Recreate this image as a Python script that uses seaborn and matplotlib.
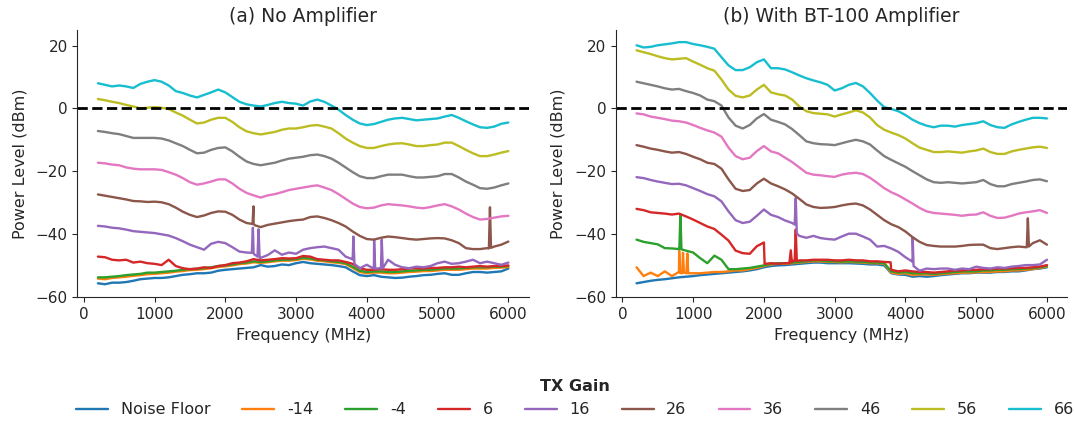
"""
Received power vs frequency for each TX gain, with and without the BT-100 amplifier.
"""
import numpy as np
import pandas as pd

import matplotlib
matplotlib.use('Agg')
import matplotlib.pyplot as plt
import seaborn as sns

sns.set_style('ticks')
plt.rcParams['font.family'] = ['DejaVu Sans']

# ── Data (dBm, sampled every 100 MHz from 200 to 6000 MHz) ───────────────────
FREQ_MHZ = list(range(200, 6001, 100))
GAINS = ['Noise Floor', '-14', '-4', '6', '16', '26', '36', '46', '56', '66']

# (a) No amplifier
a_noise = [-55.7, -56.0, -55.5, -55.5, -55.3, -54.9, -54.4, -54.2, -54.0, -54.0,
           -53.8, -53.4, -53.0, -52.8, -52.5, -52.5, -52.3, -51.7, -51.4, -51.2,
           -51.0, -50.8, -50.6, -49.9, -50.4, -50.2, -49.7, -49.9, -49.3, -48.9,
           -49.3, -49.5, -49.7, -49.9, -50.2, -50.6, -51.9, -53.1, -53.4, -53.1,
           -53.6, -53.8, -54.0, -53.9, -53.6, -53.4, -53.1, -53.0, -52.7, -52.5,
           -53.0, -53.0, -52.5, -52.1, -52.1, -52.3, -52.1, -51.9, -51.0]
a_m14 = [-54.2, -54.4, -54.0, -53.8, -53.6, -53.3, -53.1, -52.8, -52.7, -52.5,
         -52.3, -52.0, -51.8, -51.5, -51.4, -51.2, -50.9, -50.5, -50.3, -50.0,
         -49.6, -49.4, -49.0, -49.2, -49.0, -48.7, -48.5, -48.5, -48.3, -47.9,
         -48.1, -48.5, -48.7, -49.0, -49.2, -49.6, -50.8, -52.1, -52.5, -52.3,
         -52.3, -52.5, -52.5, -52.3, -52.1, -52.0, -51.8, -51.8, -51.6, -51.4,
         -51.4, -51.4, -51.2, -51.0, -51.0, -51.0, -50.8, -50.7, -50.5]
a_m4 = [-53.8, -53.8, -53.6, -53.4, -53.1, -52.9, -52.7, -52.3, -52.3, -52.1,
        -51.9, -51.7, -51.4, -51.2, -51.1, -50.9, -50.6, -50.2, -50.0, -49.7,
        -49.3, -49.1, -48.7, -48.9, -48.7, -48.4, -48.2, -48.2, -48.0, -47.6,
        -47.8, -48.2, -48.4, -48.7, -48.9, -49.3, -50.4, -51.7, -52.1, -51.9,
        -51.9, -52.1, -52.1, -51.9, -51.7, -51.6, -51.4, -51.4, -51.2, -51.0,
        -51.0, -51.0, -50.8, -50.6, -50.6, -50.6, -50.4, -50.4, -50.2]
a_6 = [-47.2, -47.4, -48.2, -48.4, -48.2, -49.1, -48.8, -49.3, -49.5, -49.9,
       -48.2, -50.2, -50.9, -51.2, -51.0, -50.6, -50.8, -50.2, -49.9, -49.3,
       -49.1, -48.7, -48.0, -48.4, -48.2, -48.0, -47.7, -47.8, -47.7, -47.0,
       -47.2, -48.0, -48.2, -48.4, -48.4, -48.9, -49.5, -50.9, -51.4, -51.4,
       -51.2, -51.4, -51.4, -51.2, -51.0, -50.9, -51.0, -50.8, -50.8, -50.6,
       -50.6, -50.4, -50.6, -50.4, -50.2, -50.4, -50.2, -50.2, -50.0]
a_16 = [-37.4, -37.6, -38.0, -38.2, -38.6, -39.1, -39.3, -39.5, -39.7, -40.1,
        -40.5, -41.3, -42.3, -43.4, -44.2, -45.0, -43.1, -42.5, -42.9, -44.2,
        -45.6, -45.9, -46.1, -47.6, -46.7, -45.2, -46.6, -45.9, -46.3, -45.0,
        -44.5, -44.2, -44.0, -44.5, -45.0, -47.2, -48.2, -50.9, -49.8, -50.9,
        -50.9, -48.2, -49.8, -50.6, -50.9, -50.4, -50.6, -50.2, -49.3, -48.8,
        -49.5, -49.3, -48.8, -48.2, -49.3, -48.8, -49.3, -49.8, -49.1]
a_26 = [-27.4, -27.8, -28.2, -28.6, -29.0, -29.5, -29.6, -29.8, -29.7, -29.9,
        -30.5, -31.6, -32.9, -33.9, -34.6, -34.1, -33.3, -32.8, -32.9, -33.9,
        -35.4, -36.5, -36.7, -37.8, -37.1, -36.7, -36.3, -35.9, -35.6, -35.4,
        -34.6, -34.4, -34.9, -35.6, -36.5, -37.6, -39.2, -40.6, -41.6, -41.8,
        -41.2, -40.8, -41.0, -41.3, -41.6, -41.8, -41.6, -41.4, -41.3, -41.4,
        -42.0, -42.9, -44.5, -44.8, -44.8, -44.5, -44.0, -43.4, -42.4]
a_36 = [-17.3, -17.5, -17.9, -18.1, -18.8, -19.2, -19.4, -19.4, -19.4, -19.6,
        -20.3, -21.1, -22.2, -23.5, -24.3, -23.9, -23.3, -22.6, -22.6, -23.9,
        -25.6, -26.9, -27.7, -28.4, -27.7, -27.3, -26.7, -26.0, -25.6, -25.2,
        -24.8, -24.5, -25.2, -26.0, -27.3, -28.8, -30.3, -31.4, -31.8, -31.6,
        -30.9, -30.5, -30.7, -30.9, -31.2, -31.6, -31.8, -31.4, -30.9, -30.5,
        -31.2, -32.2, -33.5, -34.6, -35.4, -35.2, -34.8, -34.4, -34.2]
a_46 = [-7.2, -7.5, -7.9, -8.2, -8.8, -9.4, -9.4, -9.4, -9.4, -9.6,
        -10.2, -11.1, -12.0, -13.2, -14.3, -14.1, -13.2, -12.6, -12.4, -13.7,
        -15.4, -16.9, -17.7, -18.1, -17.7, -17.3, -16.6, -16.0, -15.7, -15.4,
        -14.9, -14.7, -15.2, -16.0, -17.3, -18.8, -20.3, -21.6, -22.2, -22.2,
        -21.6, -21.1, -21.1, -21.1, -21.6, -22.0, -22.0, -21.8, -21.6, -20.9,
        -20.9, -22.0, -23.3, -24.3, -25.4, -25.6, -25.2, -24.5, -23.9]
a_56 = [3.0, 2.6, 2.1, 1.7, 1.1, 0.6, 0.0, 0.2, 0.4, 0.2,
        -0.2, -1.3, -2.3, -3.6, -4.8, -4.5, -3.6, -3.0, -3.0, -4.3,
        -6.0, -7.3, -7.9, -8.3, -7.9, -7.5, -6.8, -6.4, -6.4, -6.0,
        -5.5, -5.3, -5.8, -6.4, -7.9, -9.6, -10.9, -12.0, -12.6, -12.6,
        -12.0, -11.5, -11.2, -11.1, -11.5, -12.0, -12.0, -11.7, -11.5, -10.9,
        -10.9, -12.0, -13.2, -14.3, -15.2, -15.2, -14.7, -14.1, -13.6]
a_66 = [8.0, 7.5, 7.0, 7.3, 7.0, 6.5, 7.8, 8.5, 9.0, 8.5,
        7.3, 5.5, 4.9, 4.1, 3.5, 4.3, 5.1, 6.0, 5.1, 3.6,
        2.1, 1.3, 0.9, 0.6, 1.1, 1.7, 2.1, 1.7, 1.5, 0.9,
        2.2, 2.8, 2.1, 0.9, -0.4, -2.1, -3.6, -4.8, -5.3, -5.0,
        -4.3, -3.6, -3.2, -3.0, -3.4, -3.8, -3.6, -3.4, -3.2, -2.6,
        -2.1, -3.0, -4.1, -5.1, -6.0, -6.2, -5.8, -4.9, -4.5]

# (b) With BT-100 amplifier
b_noise = [-55.7, -55.3, -54.9, -54.6, -54.4, -54.1, -53.8, -53.6, -53.4, -53.1,
           -52.9, -52.7, -52.5, -52.3, -52.1, -51.9, -51.6, -51.2, -50.6, -50.2,
           -50.0, -49.9, -49.7, -49.5, -49.3, -49.1, -49.1, -49.3, -49.3, -49.3,
           -49.3, -49.4, -49.5, -49.7, -49.7, -50.0, -52.5, -52.9, -53.0, -53.6,
           -53.4, -53.6, -53.4, -53.1, -52.9, -52.7, -52.5, -52.5, -52.3, -52.3,
           -52.3, -52.1, -52.1, -51.9, -51.9, -51.6, -51.2, -51.0, -50.6]
b_m14 = [-50.6, -53.4, -52.3, -53.4, -51.9, -53.4, -51.9, -52.5, -52.5, -52.5,
         -52.3, -52.1, -52.1, -51.9, -51.6, -51.6, -51.2, -50.8, -50.2, -49.7,
         -49.5, -49.5, -49.3, -49.1, -48.9, -48.7, -48.7, -48.9, -48.9, -49.0,
         -48.9, -49.0, -49.1, -49.3, -49.3, -49.5, -52.3, -52.7, -52.5, -53.1,
         -52.9, -52.9, -53.0, -52.8, -52.6, -52.5, -52.3, -52.3, -52.2, -52.1,
         -52.1, -51.9, -51.9, -51.6, -51.6, -51.4, -51.2, -50.8, -50.4]
b_m4 = [-41.8, -42.5, -42.9, -43.3, -44.5, -44.6, -44.8, -45.3, -45.9, -47.7,
        -49.3, -46.9, -48.2, -51.2, -51.2, -51.0, -50.8, -50.4, -50.0, -49.5,
        -49.3, -49.3, -49.1, -48.9, -48.7, -48.4, -48.4, -48.7, -48.7, -48.8,
        -48.7, -48.8, -48.9, -49.1, -49.1, -49.3, -51.9, -52.3, -52.1, -52.5,
        -52.5, -52.5, -52.7, -52.5, -52.3, -52.1, -51.9, -51.9, -51.9, -51.6,
        -51.6, -51.4, -51.4, -51.2, -51.2, -51.0, -50.9, -50.6, -50.2]
b_6 = [-32.0, -32.4, -33.1, -33.3, -33.5, -33.8, -33.5, -34.4, -35.4, -36.5,
       -37.6, -38.4, -40.2, -42.1, -45.3, -46.1, -46.3, -43.9, -42.7, -49.3,
       -49.5, -49.3, -48.5, -48.4, -48.4, -48.2, -48.2, -48.2, -48.4, -48.4,
       -48.2, -48.4, -48.4, -48.7, -48.7, -48.9, -51.4, -51.9, -51.6, -51.9,
       -52.1, -52.1, -52.3, -52.1, -51.9, -51.6, -51.6, -51.4, -51.4, -51.2,
       -51.2, -51.0, -51.0, -50.9, -50.8, -50.8, -50.6, -50.4, -49.9]
b_16 = [-21.9, -22.2, -22.8, -23.3, -23.7, -24.1, -24.0, -24.5, -25.4, -26.3,
        -27.3, -28.0, -29.6, -32.8, -35.6, -36.5, -36.1, -34.2, -32.2, -33.9,
        -34.6, -35.7, -36.5, -40.6, -41.2, -40.6, -41.3, -41.6, -41.8, -40.8,
        -39.9, -39.9, -40.8, -41.8, -44.0, -43.8, -44.6, -45.7, -47.4, -48.9,
        -51.7, -51.0, -51.2, -51.0, -51.0, -51.4, -51.0, -51.2, -50.4, -50.8,
        -51.0, -50.6, -50.8, -50.4, -50.2, -49.9, -49.9, -49.7, -48.2]
b_26 = [-11.7, -12.2, -12.8, -13.2, -13.7, -14.1, -13.9, -14.5, -15.4, -16.2,
        -17.3, -17.7, -19.2, -22.6, -25.6, -26.3, -26.0, -23.9, -22.4, -23.9,
        -24.8, -25.8, -27.1, -28.8, -30.6, -31.4, -31.7, -31.6, -31.4, -30.9,
        -30.5, -30.3, -30.9, -32.2, -33.9, -35.6, -36.9, -37.8, -39.2, -41.0,
        -42.5, -43.5, -43.8, -44.0, -44.0, -44.0, -43.8, -43.5, -43.4, -43.4,
        -44.5, -44.8, -44.5, -44.2, -44.0, -44.2, -42.9, -42.0, -43.4]
b_36 = [-1.6, -1.9, -2.6, -3.0, -3.4, -3.9, -4.1, -4.5, -5.3, -6.2,
        -7.0, -7.7, -9.0, -12.5, -15.2, -16.2, -15.7, -13.6, -12.0, -13.7,
        -14.3, -15.7, -17.1, -18.8, -20.5, -21.1, -21.3, -21.6, -21.8, -21.1,
        -20.7, -20.5, -20.9, -22.1, -23.7, -25.4, -26.7, -27.7, -29.0, -30.3,
        -31.7, -32.8, -33.3, -33.5, -33.7, -33.9, -34.2, -33.9, -33.8, -33.1,
        -34.2, -34.9, -34.8, -34.2, -33.5, -33.1, -32.8, -32.4, -33.3]
b_46 = [8.5, 8.0, 7.5, 7.0, 6.4, 6.0, 6.2, 5.5, 4.9, 4.1,
        2.8, 2.3, 0.9, -2.9, -5.5, -6.4, -5.3, -3.2, -1.8, -3.6,
        -4.3, -5.1, -6.6, -8.5, -10.5, -11.1, -11.4, -11.5, -11.7, -11.1,
        -10.5, -10.0, -10.5, -11.5, -13.4, -15.2, -16.4, -17.5, -18.6, -20.0,
        -21.3, -22.6, -23.5, -23.7, -23.5, -23.7, -23.9, -23.7, -23.5, -22.8,
        -24.1, -24.8, -24.8, -24.1, -23.7, -23.3, -22.8, -22.6, -23.2]
b_56 = [18.5, 17.9, 17.3, 16.6, 16.0, 15.6, 15.8, 16.0, 14.9, 13.9,
        12.8, 12.0, 9.2, 6.0, 4.0, 3.5, 4.1, 6.0, 7.5, 5.1,
        4.5, 4.1, 2.8, 0.6, -0.9, -1.5, -1.7, -1.9, -2.6, -1.9,
        -1.3, -0.6, -1.3, -2.9, -5.3, -6.8, -7.7, -8.5, -9.6, -11.1,
        -12.5, -13.2, -13.9, -13.9, -13.7, -13.9, -14.1, -13.7, -13.4, -12.8,
        -13.9, -14.5, -14.5, -13.7, -13.2, -12.8, -12.4, -12.2, -12.6]
b_66 = [20.1, 19.4, 19.6, 20.1, 20.4, 20.7, 21.1, 21.1, 20.5, 20.1,
        19.6, 19.0, 16.3, 13.7, 12.2, 12.2, 13.1, 14.7, 15.6, 12.8,
        12.8, 12.4, 11.5, 10.5, 9.6, 8.9, 8.3, 7.5, 5.7, 6.4,
        7.5, 8.1, 7.0, 4.9, 2.5, 0.4, -0.2, -0.9, -2.1, -3.6,
        -4.7, -5.5, -6.0, -5.5, -5.5, -5.8, -5.3, -5.0, -4.7, -4.1,
        -5.3, -6.0, -6.2, -5.1, -4.3, -3.6, -3.0, -3.0, -3.2]

# Narrow spurs / steps between the 100 MHz samples: (MHz, dBm)
extra_a = {
    '26': [(2385, -36.8), (2398, -31.2), (2415, -37.2),
           (5725, -44.6), (5740, -31.5), (5755, -44.4)],
    '16': [(2375, -46.0), (2390, -38.0), (2405, -46.4),
           (2455, -47.2), (2470, -38.5), (2485, -47.6),
           (3795, -48.0), (3810, -40.8), (3825, -49.5),
           (4088, -50.9), (4103, -41.8), (4118, -51.0),
           (4196, -50.9), (4211, -41.8), (4226, -50.9)],
}
extra_b = {
    '-14': [(790, -52.2), (803, -45.4), (815, -52.4),
            (845, -52.5), (857, -46.0), (870, -52.3),
            (905, -52.5), (918, -46.2), (930, -52.5)],
    '-4': [(805, -44.8), (820, -33.7), (835, -44.9)],
    '6': [(2010, -49.5), (2360, -49.3), (2380, -45.2), (2395, -49.0),
          (2435, -48.6), (2450, -38.6), (2465, -48.6), (3790, -49.0)],
    '16': [(2435, -37.0), (2450, -28.5), (2465, -39.8),
           (4085, -48.6), (4102, -41.0), (4115, -50.2)],
    '26': [(5715, -44.2), (5730, -35.0), (5745, -44.0)],
}

series_a = [a_noise, a_m14, a_m4, a_6, a_16, a_26, a_36, a_46, a_56, a_66]
series_b = [b_noise, b_m14, b_m4, b_6, b_16, b_26, b_36, b_46, b_56, b_66]


def to_long(series, extra):
    rows = []
    for gain, vals in zip(GAINS, series):
        pts = list(zip(FREQ_MHZ, vals)) + extra.get(gain, [])
        for f, p in sorted(pts):
            rows.append({'freq': f, 'power': p, 'gain': gain})
    return pd.DataFrame(rows)


df_a = to_long(series_a, extra_a)
df_b = to_long(series_b, extra_b)
palette = dict(zip(GAINS, sns.color_palette('tab10', 10)))

fig, axes = plt.subplots(1, 2, figsize=(10.75, 4.21), dpi=100)
fig.subplots_adjust(left=0.072, right=0.993, top=0.929, bottom=0.295, wspace=0.193)

for ax, df, title in [
    (axes[0], df_a, '(a) No Amplifier'),
    (axes[1], df_b, '(b) With BT-100 Amplifier'),
]:
    sns.lineplot(data=df, x='freq', y='power', hue='gain', hue_order=GAINS,
                 palette=palette, estimator=None, sort=True, linewidth=1.7,
                 ax=ax)
    ax.axhline(0, color='black', linestyle='--', linewidth=2)
    ax.set_ylim(-60, 25)
    ax.set_yticks([-60, -40, -20, 0, 20])
    ax.set_xticks([0, 1000, 2000, 3000, 4000, 5000, 6000])
    ax.tick_params(labelsize=11)
    ax.set_xlabel('Frequency (MHz)', fontsize=11.5, labelpad=5)
    ax.set_ylabel('Power Level (dBm)', fontsize=11.5, labelpad=6)
    ax.set_title(title, fontsize=13.5)
    sns.despine(ax=ax)

handles, labels = axes[0].get_legend_handles_labels()
for ax in axes:
    ax.get_legend().remove()

fig.legend(handles, labels, title='TX Gain', loc='lower center',
           bbox_to_anchor=(0.535, -0.025), ncol=10, frameon=False,
           fontsize=11.5, title_fontproperties={'weight': 'bold', 'size': 11.5})

plt.savefig('out.png', dpi=100)
plt.close()
